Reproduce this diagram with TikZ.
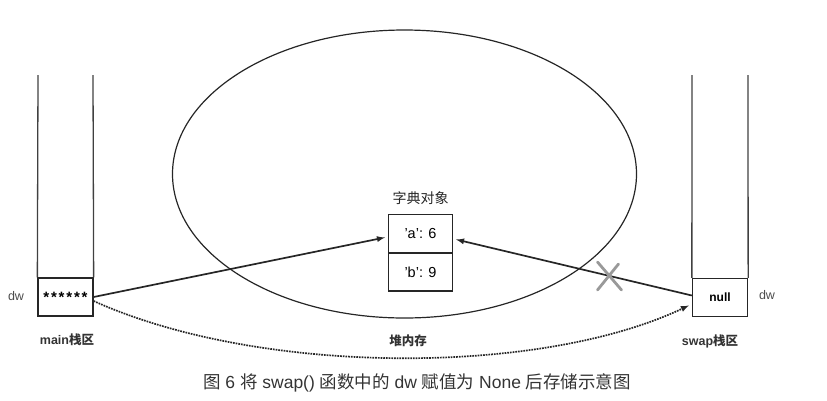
\documentclass[tikz,border=0pt]{standalone}
\usepackage{fontspec}
\setmainfont{Liberation Sans}
\newfontfamily\cjk{Noto Sans CJK SC}
\newcommand\zh[1]{{\cjk #1}}
\begin{document}
\begin{tikzpicture}[x=1pt,y=-1pt,
		cell/.style={draw=black!85,line width=1.3pt,minimum width=55pt,minimum height=38pt,inner sep=0pt},
		dictcell/.style={draw=black!85,line width=1.3pt,minimum width=64pt,minimum height=37.5pt,inner sep=0pt,font=\fontsize{14.5}{14.5}\selectfont},
		wall/.style={black!75,line width=1.3pt},
		label/.style={font=\bfseries\fontsize{12.5}{12.5}\selectfont,text=black!80},
		ptr/.style={-latex,line width=1.7pt,black!85}]
		\useasboundingbox (0,0) rectangle (827,400);
		
		% heap
		\draw[black!85,line width=1.2pt] (404.5,174) ellipse (232 and 144);
		\node[label] (heaplbl) at (408,341) {\zh{堆内存}};
		\node[font=\fontsize{14}{14}\selectfont,text=black!85] (dictlbl) at (420.5,198) {\zh{字典对象}};
		\node[dictcell] (dicta) at (420.5,233.5) {'a': 6};
		\node[dictcell,anchor=north] (dictb) at (dicta.south) {'b': 9};
		
		% main stack
		\node[cell,font=\bfseries\fontsize{15}{15}\selectfont] (maincell) at (65.5,297) {\addfontfeature{LetterSpace=12}******};
		\draw[wall] (maincell.north west) -- (38,75);
		\draw[wall] (maincell.north east) -- (93,75);
		\node[text=black!70,font=\fontsize{12.5}{12.5}\selectfont] (maindw) at (16,296) {dw};
		\node[label] (mainlbl) at (67,340) {main\zh{栈区}};
		
		% swap stack
		\node[cell,font=\bfseries\fontsize{12}{12}\selectfont] (swapcell) at (720,297.5) {null};
		\draw[wall] (swapcell.north west) -- (692,75);
		\draw[wall] (swapcell.north east) -- (748,75);
		\node[text=black!70,font=\fontsize{12.5}{12.5}\selectfont] (swapdw) at (767,295) {dw};
		\node[label] (swaplbl) at (710,341) {swap\zh{栈区}};
		
		% references
		\draw[ptr] (maincell.east) -- ([xshift=-3,yshift=-4]dicta.west);
		\draw[ptr] ([yshift=2]swapcell.west) -- ([xshift=3,yshift=-6]dicta.east);
		\draw[-latex,line width=1.7pt,densely dotted,black!85] ([yshift=-4]maincell.east)
			.. controls (260,376) and (540,376) .. ([xshift=-3,yshift=-8]swapcell.west);
		
		% broken link
		\coordinate (cut) at (609.5,276);
		\draw[black!40,line width=2.8pt,line cap=round] ([xshift=-12,yshift=14]cut) -- ([xshift=12,yshift=-14]cut);
		\draw[black!40,line width=2.8pt,line cap=round] ([xshift=-12,yshift=-14]cut) -- ([xshift=9,yshift=12]cut);
		
		\node[text=black!80,font=\fontsize{17.5}{17.5}\selectfont] (caption) at (417,383) {\zh{图} 6 \zh{将} swap() \zh{函数中的} dw \zh{赋值为} None \zh{后存储示意图}};
	\end{tikzpicture}
\end{document}
